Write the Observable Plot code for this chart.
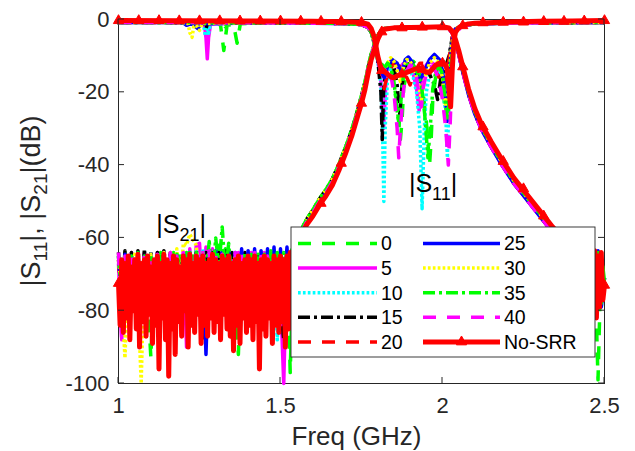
<!DOCTYPE html>
<html><head><meta charset="utf-8">
<script src="https://cdn.jsdelivr.net/npm/d3@7"></script>
<script src="https://cdn.jsdelivr.net/npm/@observablehq/plot@0.6"></script>
<style>body{margin:0;background:#fff;}svg{display:block}</style>
</head><body><div id="chart"></div>
<script>
// ---------- tick labels ----------
const xTicks = [1, 1.5, 2, 2.5];
const yTicks = [0, -20, -40, -60, -80, -100];
const srrLabels = ["0", "5", "10", "15", "20", "25", "30", "35", "40"];
const refLabel = "No-SRR";

// ---------- |S21| noise floor, left part (colored: 1.00..1.53 step 0.01) ----------
const noiseL_0 = [-66,-75,-64,-78,-65,-76,-64,-80,-65,-77,
  -93,-66,-74,-64,-79,-65,-76,-64,-80,-65,
  -75,-64,-78,-65,-77,-64,-79,-63.5,-76,-63,
  -78,-62,-75,-63,-79,-64,-77,-92,-65,-76,
  -64,-79,-65,-77,-64,-80,-63.5,-76,-64,-78,
  -64,-77,-65,-97];
const noiseL_5 = [-67,-88,-65,-77,-64,-79,-65,-76,-64,-78,
  -65,-77,-64,-80,-65,-76,-64,-78,-65,-77,
  -64,-90,-63,-76,-62,-61.5,-75,-62.5,-78,-63,
  -77,-64,-79,-64,-76,-65,-78,-64,-77,-65,
  -80,-64,-76,-65,-79,-64,-77,-64,-78,-65,
  -76,-100,-64,-77];
const noiseL_10 = [-65,-77,-64.5,-79,-65,-76,-64.5,-78,-65,-77,
  -64,-80,-65,-76,-64.5,-78,-65,-77,-64,-79,
  -64.5,-76,-64,-78,-63.5,-77,-63,-79,-64,-76,
  -64.5,-78,-65,-77,-64.5,-79,-65,-76,-64.5,-78,
  -65,-77,-64,-80,-65,-76,-64.5,-78,-65,-88,
  -64.5,-79,-65,-82];
const noiseL_15 = [-64,-78,-63.5,-76,-64,-79,-63.5,-77,-63,-80,
  -63.5,-76,-64,-78,-63.5,-77,-64,-79,-64.5,-76,
  -64,-78,-65,-77,-64,-79,-88,-64,-76,-63.5,
  -78,-64,-77,-63.5,-79,-64,-76,-64.5,-78,-64,
  -77,-65,-79,-64,-76,-64.5,-78,-64,-77,-65,
  -79,-88,-64,-80];
const noiseL_20 = [-66,-79,-65,-77,-66,-80,-65,-78,-66,-77,
  -65,-79,-66,-76,-65,-78,-66,-80,-65,-77,
  -66,-79,-65,-76,-66,-78,-65,-77,-66,-79,
  -65,-76,-66,-78,-65,-80,-66,-77,-65,-79,
  -66,-76,-65,-78,-66,-77,-65,-79,-66,-76,
  -65,-78,-66,-80];
const noiseL_25 = [-65,-77,-64.5,-79,-65,-76,-64,-78,-65,-77,
  -64.5,-79,-65,-76,-64,-78,-65,-77,-64.5,-80,
  -65,-76,-64,-78,-64.5,-77,-64,-92,-64,-78,
  -63.5,-77,-64,-79,-63.5,-76,-64,-78,-63,-77,
  -63.5,-79,-63,-76,-63.5,-78,-63,-77,-62.5,-79,
  -63,-76,-62.5,-78];
const noiseL_30 = [-65,-77,-93,-65,-78,-64.5,-76,-100,-65,-77,
  -64.5,-79,-65,-76,-64,-78,-64,-77,-63,-76,
  -61.5,-62,-59,-60.5,-62,-75,-63.5,-78,-64,-77,
  -64.5,-79,-65,-76,-64.5,-78,-65,-77,-64.5,-79,
  -65,-76,-64.5,-78,-65,-77,-64.5,-79,-65,-76,
  -64.5,-78,-65,-77];
const noiseL_35 = [-65,-76,-64.5,-78,-65,-77,-64,-79,-65,-76,
  -64.5,-78,-65,-77,-64.5,-79,-65,-76,-64.5,-78,
  -65,-77,-64,-79,-64,-76,-63.5,-70,-61,-72,
  -60,-68,-57,-70,-61.5,-72,-77,-64.5,-79,-64,
  -76,-64.5,-78,-64,-77,-64.5,-79,-63.5,-76,-64,
  -78,-64,-77,-64];
const noiseL_40 = [-64,-88,-65,-77,-64.5,-79,-65,-76,-64,-78,
  -65,-77,-64.5,-79,-65,-76,-64,-78,-65,-77,
  -64,-80,-64.5,-76,-63.5,-78,-64,-77,-63.5,-79,
  -64,-76,-64.5,-78,-65,-77,-64,-79,-64.5,-76,
  -65,-78,-64,-77,-64.5,-79,-65,-76,-64,-78,
  -64.5,-77,-65,-79];
// No-SRR noise, 1.000..1.535 step 0.005
const noiseL_ref = [-72.5,-84,-66,-86,-67,-82,-65,-88,-68,-80,
  -66,-85,-64.5,-90,-67,-83,-66,-87,-65,-81,
  -68,-89,-66,-84,-65,-96,-67,-82,-64.5,-88,
  -66,-98,-67,-85,-65,-92,-66,-83,-68,-87,
  -65,-80,-66,-90,-64.5,-84,-67,-86,-65,-81,
  -66,-89,-65,-84,-67,-87,-66,-82,-64.5,-86,
  -66,-83,-67,-88,-65,-81,-66,-85,-65,-87,
  -67,-91,-66,-84,-65,-89,-67,-82,-66,-86,
  -65,-84,-66,-88,-65,-83,-67,-96,-66,-85,
  -65,-87,-66,-82,-67,-89,-65,-84,-66,-86,
  -65,-83,-66,-90,-65,-85,-64,-80];

// ---------- |S21| noise floor, right part (colored: 2.44..2.50 step 0.01; ref step 0.005) ----------
const noiseR_0 = [-64,-78,-65,-66,-99,-64,-72];
const noiseR_5 = [-65,-77,-64,-79,-65,-76,-71];
const noiseR_10 = [-64.5,-78,-65,-77,-64.5,-79,-72];
const noiseR_15 = [-64,-79,-65,-76,-64,-78,-71];
const noiseR_20 = [-65,-77,-65.5,-79,-65,-77,-72];
const noiseR_25 = [-64,-78,-64.5,-77,-63.5,-79,-71];
const noiseR_30 = [-65,-76,-64.5,-78,-65,-77,-72];
const noiseR_35 = [-64.5,-79,-64,-77,-64,-78,-71];
const noiseR_40 = [-65,-77,-64.5,-79,-64,-76,-72];
const noiseR_ref = [-65,-80,-64,-84,-66,-78,-63.5,-82,-65,-79,-64,-77,-73];

// ---------- |S21| filter response (freq GHz, dB) ----------
const s21Band_ref = [[1.54,-63],[1.56,-60],[1.58,-56.5],[1.60,-54],[1.62,-51],[1.64,-48.5],[1.66,-45.5],[1.68,-41.5],[1.70,-37],[1.72,-32],[1.74,-26],[1.75,-23],[1.76,-19.5],[1.77,-15],[1.78,-11],[1.79,-8.3],[1.80,-5.5],[1.81,-3.6],[1.82,-2.7],[1.85,-2.3],[1.90,-2.2],[1.95,-2.1],[2.00,-2.0],[2.02,-2.3],[2.03,-3.3],[2.04,-5.5],[2.05,-8.5],[2.06,-12],[2.08,-19],[2.10,-24.5],[2.12,-28.7],[2.15,-33.5],[2.18,-38],[2.22,-43.5],[2.26,-48],[2.30,-52.5],[2.34,-57],[2.38,-61],[2.42,-64]];
const s21Band_A = [[1.54,-62.5],[1.56,-58.5],[1.58,-55],[1.60,-52.3],[1.62,-49.3],[1.64,-46.8],[1.66,-43.8],[1.68,-39.8],[1.70,-35.3],[1.72,-30.3],[1.74,-24.3],[1.76,-17.5],[1.77,-13.3],[1.78,-9.5],[1.79,-6.8],[1.80,-4.5],[1.81,-3.1],[1.82,-2.5],[1.85,-2.3],[1.90,-2.2],[1.95,-2.1],[2.00,-2.0],[2.02,-2.4],[2.03,-3.5],[2.04,-5.8],[2.05,-9],[2.06,-12.8],[2.08,-19.8],[2.10,-25.3],[2.12,-29.5],[2.15,-34.3],[2.18,-38.8],[2.22,-44.3],[2.26,-48.8],[2.30,-53.3],[2.34,-57.8],[2.38,-61.8],[2.42,-64.8]];
const s21Band_B = [[1.54,-63],[1.56,-59.3],[1.58,-55.8],[1.60,-53.1],[1.62,-50.1],[1.64,-47.6],[1.66,-44.6],[1.68,-40.6],[1.70,-36.1],[1.72,-31.1],[1.74,-25.1],[1.76,-18.2],[1.77,-13.9],[1.78,-10],[1.79,-7.2],[1.80,-4.8],[1.81,-3.3],[1.82,-2.6],[1.85,-2.3],[1.90,-2.2],[1.95,-2.1],[2.00,-2.0],[2.02,-2.5],[2.03,-3.7],[2.04,-6.1],[2.05,-9.5],[2.06,-13.5],[2.08,-20.5],[2.10,-26],[2.12,-30.2],[2.15,-35],[2.18,-39.5],[2.22,-45],[2.26,-49.5],[2.30,-54],[2.34,-58.5],[2.38,-62.5],[2.42,-65.5]];

// ---------- |S11| (freq GHz, dB) ----------
const s11_0 = [[1.00,-0.8],[1.10,-0.85],[1.20,-0.9],[1.30,-0.9],[1.315,-1.6],[1.325,-8.5],[1.335,-1.6],[1.355,-1.3],[1.366,-6.5],[1.376,-1.2],[1.45,-0.9],[1.60,-1.0],[1.70,-1.1],[1.75,-1.4],[1.77,-2.2],[1.78,-3.5],[1.79,-7],[1.80,-11],[1.81,-13],[1.82,-12],[1.83,-11.5],[1.84,-13],[1.85,-17],[1.86,-24],[1.87,-33],[1.875,-28],[1.88,-19],[1.89,-14],[1.90,-12],[1.91,-11.5],[1.92,-12.5],[1.93,-15],[1.94,-20],[1.95,-28],[1.96,-40],[1.965,-33],[1.97,-22],[1.98,-15],[1.99,-13],[2.00,-16],[2.01,-28],[2.015,-24],[2.02,-12],[2.03,-5],[2.04,-2.6],[2.06,-1.7],[2.10,-1.2],[2.20,-1.0],[2.35,-0.9],[2.50,-0.8]];
const s11_5 = [[1.00,-0.8],[1.15,-0.85],[1.25,-0.9],[1.265,-1.3],[1.27,-5],[1.274,-10.8],[1.278,-5],[1.284,-1.3],[1.40,-0.9],[1.60,-1.0],[1.70,-1.1],[1.75,-1.4],[1.77,-2.2],[1.78,-3.2],[1.79,-6.5],[1.80,-11],[1.81,-17],[1.818,-30],[1.825,-18],[1.83,-13],[1.84,-11.5],[1.85,-12],[1.86,-13],[1.87,-13],[1.88,-12],[1.89,-12],[1.90,-13],[1.91,-15],[1.92,-19],[1.928,-25],[1.935,-19],[1.94,-15],[1.95,-12.5],[1.96,-11.5],[1.97,-12],[1.98,-13],[1.99,-15],[2.00,-18],[2.01,-21],[2.02,-14],[2.03,-5],[2.04,-2.6],[2.06,-1.7],[2.10,-1.2],[2.20,-1.0],[2.35,-0.9],[2.50,-0.8]];
const s11_10 = [[1.00,-0.8],[1.15,-0.85],[1.25,-0.9],[1.262,-1.3],[1.268,-4.5],[1.272,-2],[1.278,-3.8],[1.284,-1.2],[1.40,-0.9],[1.60,-1.0],[1.70,-1.1],[1.75,-1.4],[1.77,-2.2],[1.78,-3.2],[1.79,-6.5],[1.80,-11],[1.81,-18],[1.815,-30],[1.819,-50],[1.823,-30],[1.83,-17],[1.84,-13],[1.85,-12],[1.86,-12.5],[1.87,-13],[1.88,-13],[1.89,-13.5],[1.90,-14],[1.91,-16],[1.92,-20],[1.93,-30],[1.937,-52],[1.944,-30],[1.95,-20],[1.96,-15],[1.97,-13],[1.98,-13],[1.99,-14],[2.00,-17],[2.01,-26],[2.015,-38],[2.02,-22],[2.03,-7],[2.04,-3],[2.06,-1.8],[2.10,-1.2],[2.20,-1.0],[2.35,-0.9],[2.50,-0.8]];
const s11_15 = [[1.00,-0.8],[1.15,-0.85],[1.26,-0.9],[1.265,-1.1],[1.27,-2.5],[1.275,-1.1],[1.40,-0.9],[1.60,-1.0],[1.70,-1.1],[1.75,-1.4],[1.77,-2.2],[1.78,-3.5],[1.79,-6],[1.80,-11],[1.81,-20],[1.814,-33],[1.818,-20],[1.825,-13],[1.835,-11.5],[1.85,-13],[1.86,-18],[1.868,-26],[1.875,-18],[1.885,-13],[1.90,-12],[1.92,-12.5],[1.94,-14],[1.96,-15],[1.975,-18],[1.985,-22],[1.995,-16],[2.01,-13],[2.02,-10],[2.03,-5],[2.04,-2.6],[2.06,-1.7],[2.10,-1.2],[2.20,-1.0],[2.35,-0.9],[2.50,-0.8]];
const s11_20 = [[1.00,-0.8],[1.20,-0.85],[1.40,-0.9],[1.60,-1.0],[1.70,-1.1],[1.75,-1.4],[1.77,-2.2],[1.78,-3.5],[1.79,-6.5],[1.80,-10],[1.81,-14],[1.82,-19],[1.83,-15],[1.85,-12],[1.87,-13],[1.89,-16],[1.90,-18],[1.91,-15],[1.93,-12],[1.95,-12],[1.97,-13],[1.99,-16],[2.00,-19],[2.01,-15],[2.02,-11],[2.03,-5],[2.04,-2.6],[2.06,-1.7],[2.10,-1.2],[2.20,-1.0],[2.35,-0.9],[2.50,-0.8]];
const s11_25 = [[1.00,-0.8],[1.15,-0.85],[1.20,-0.9],[1.21,-1.6],[1.225,-1.1],[1.245,-2.5],[1.255,-1.2],[1.40,-0.9],[1.60,-1.0],[1.70,-1.1],[1.75,-1.4],[1.77,-2.2],[1.78,-3.5],[1.79,-6.5],[1.80,-11],[1.81,-14],[1.82,-16],[1.83,-13],[1.845,-11],[1.86,-12],[1.87,-14],[1.875,-15],[1.885,-11],[1.895,-10.3],[1.905,-11.5],[1.92,-15],[1.93,-17],[1.945,-14],[1.96,-11],[1.975,-9.6],[1.99,-11],[2.00,-14],[2.01,-22],[2.014,-28],[2.02,-16],[2.03,-6],[2.04,-2.6],[2.06,-1.7],[2.10,-1.2],[2.20,-1.0],[2.35,-0.9],[2.50,-0.8]];
const s11_30 = [[1.00,-0.8],[1.15,-0.85],[1.21,-0.9],[1.215,-1.2],[1.22,-3.6],[1.227,-4.9],[1.232,-2],[1.24,-1.5],[1.25,-3],[1.258,-1.1],[1.40,-0.9],[1.60,-1.0],[1.70,-1.1],[1.75,-1.4],[1.77,-2.2],[1.78,-3.5],[1.79,-6.5],[1.80,-11],[1.81,-13],[1.82,-14],[1.83,-12],[1.84,-10.5],[1.85,-11.5],[1.86,-14],[1.87,-17],[1.88,-13],[1.89,-11],[1.90,-11.5],[1.91,-13],[1.925,-17],[1.935,-22],[1.945,-16],[1.96,-12],[1.975,-10.5],[1.99,-12],[2.00,-16],[2.01,-24],[2.015,-26],[2.02,-15],[2.03,-6],[2.04,-2.6],[2.06,-1.7],[2.10,-1.2],[2.20,-1.0],[2.35,-0.9],[2.50,-0.8]];
const s11_35 = [[1.00,-0.8],[1.20,-0.85],[1.32,-0.9],[1.33,-2],[1.34,-0.9],[1.50,-0.9],[1.60,-1.0],[1.70,-1.1],[1.75,-1.4],[1.77,-2.2],[1.78,-3.5],[1.79,-6.5],[1.80,-11],[1.81,-13],[1.82,-13.5],[1.83,-12],[1.84,-13],[1.85,-17],[1.86,-25],[1.866,-29],[1.872,-22],[1.88,-15],[1.89,-12.5],[1.90,-12],[1.91,-12.5],[1.92,-14],[1.935,-18],[1.945,-26],[1.955,-38],[1.962,-30],[1.97,-19],[1.98,-14],[1.99,-13],[2.00,-15],[2.01,-24],[2.017,-28],[2.025,-13],[2.035,-5],[2.045,-2.4],[2.06,-1.7],[2.10,-1.2],[2.20,-1.0],[2.35,-0.9],[2.50,-0.8]];
const s11_40 = [[1.00,-0.8],[1.20,-0.85],[1.40,-0.9],[1.60,-1.0],[1.70,-1.1],[1.75,-1.4],[1.77,-2.2],[1.78,-3.5],[1.79,-6],[1.80,-11],[1.81,-14],[1.82,-14],[1.83,-13],[1.84,-15],[1.85,-20],[1.86,-30],[1.865,-38],[1.87,-30],[1.88,-19],[1.89,-14],[1.90,-12.5],[1.91,-13],[1.92,-16],[1.93,-22],[1.935,-24],[1.94,-19],[1.95,-15],[1.96,-13],[1.97,-13],[1.98,-14.5],[1.99,-17],[2.00,-22],[2.01,-30],[2.018,-40],[2.024,-28],[2.03,-12],[2.04,-4],[2.06,-1.8],[2.10,-1.2],[2.20,-1.0],[2.35,-0.9],[2.50,-0.8]];
const s11_ref = [[1.00,-0.3],[1.20,-0.35],[1.40,-0.4],[1.60,-0.5],[1.70,-0.6],[1.75,-0.8],[1.77,-1.3],[1.78,-2.5],[1.79,-5],[1.80,-10],[1.81,-13.5],[1.82,-14.2],[1.83,-15],[1.84,-15.8],[1.85,-16],[1.86,-15.5],[1.87,-15],[1.88,-14.8],[1.89,-14.5],[1.90,-14.2],[1.91,-13.8],[1.92,-13.5],[1.93,-13.5],[1.94,-14],[1.95,-14.5],[1.96,-14.5],[1.97,-13.5],[1.98,-12.5],[1.99,-12],[2.00,-12],[2.01,-12.5],[2.015,-14],[2.02,-19],[2.025,-24],[2.03,-14],[2.035,-6],[2.04,-3.5],[2.05,-2.3],[2.06,-1.7],[2.08,-1.2],[2.10,-1.0],[2.20,-0.7],[2.30,-0.5],[2.40,-0.4],[2.50,-0.3]];

// ---------- No-SRR marker samples ----------
const markerFreqs = [1, 1.0625, 1.125, 1.1875, 1.25, 1.3125, 1.375, 1.4375, 1.5, 1.5625, 1.625, 1.6875, 1.75, 1.8125, 1.875, 1.9375, 2, 2.0625, 2.125, 2.1875, 2.25, 2.3125, 2.375, 2.4375, 2.5];
const markerS11 = [-0.3,-0.3,-0.3,-0.35,-0.35,-0.35,-0.4,-0.4,-0.4,-0.45,-0.5,-0.55,-0.8,-14,-15,-13.7,-12,-1.7,-0.9,-0.75,-0.7,-0.55,-0.5,-0.4,-0.3];
const markerS21 = [-72.5,-74,-70,-76,-72,-75,-71,-74,-73,-59,-50.5,-39.5,-23,-3.4,-2.3,-2.1,-2.0,-13,-29.5,-39,-46.5,-54,-60.7,-70,-73];

// ---------- assemble ----------
const gridPts = (start, step, vals) => vals.map((v, i) => [start + i * step, v]);
const noiseL = {"0":noiseL_0,"5":noiseL_5,"10":noiseL_10,"15":noiseL_15,"20":noiseL_20,"25":noiseL_25,"30":noiseL_30,"35":noiseL_35,"40":noiseL_40};
const noiseR = {"0":noiseR_0,"5":noiseR_5,"10":noiseR_10,"15":noiseR_15,"20":noiseR_20,"25":noiseR_25,"30":noiseR_30,"35":noiseR_35,"40":noiseR_40};
const band = {"0":s21Band_A,"10":s21Band_A,"15":s21Band_A,"30":s21Band_A,"35":s21Band_A,"5":s21Band_B,"20":s21Band_B,"25":s21Band_B,"40":s21Band_B};
const s11 = {"0":s11_0,"5":s11_5,"10":s11_10,"15":s11_15,"20":s11_20,"25":s11_25,"30":s11_30,"35":s11_35,"40":s11_40};

const styles = {
  "0":  {stroke: "#00ff00", dash: "13,11"},
  "5":  {stroke: "#ff00ff", dash: null},
  "10": {stroke: "#00ffff", dash: "2.7,2.2"},
  "15": {stroke: "#000000", dash: "12,4,3,4"},
  "20": {stroke: "#ff0000", dash: "13,11"},
  "25": {stroke: "#0000ff", dash: null},
  "30": {stroke: "#ffff00", dash: "2.7,2.2"},
  "35": {stroke: "#00ff00", dash: "12,4,3,4"},
  "40": {stroke: "#ff00ff", dash: "13,11"},
  "No-SRR": {stroke: "#ff0000", dash: null}
};
const LW = 3.5, LW_REF = 5;
const FONT = "'Liberation Sans', Arial, Helvetica, sans-serif";

const marks = [Plot.frame({stroke: "#262626", strokeWidth: 1})];
const lineOpts = (k, w) => ({
  x: d => d[0], y: d => d[1],
  stroke: styles[k].stroke, strokeWidth: w,
  strokeDasharray: styles[k].dash || undefined,
  strokeLinejoin: "round", strokeLinecap: "butt"
});
for (const k of srrLabels) {
  const s21 = [...gridPts(1, 0.01, noiseL[k]), ...band[k], ...gridPts(2.44, 0.01, noiseR[k])];
  marks.push(Plot.line(s21, lineOpts(k, LW)));
  marks.push(Plot.line(s11[k], lineOpts(k, LW)));
}
const s21Ref = [...gridPts(1, 0.005, noiseL_ref), ...s21Band_ref, ...gridPts(2.44, 0.005, noiseR_ref)];
marks.push(Plot.line(s21Ref, lineOpts(refLabel, LW_REF)));
marks.push(Plot.line(s11_ref, lineOpts(refLabel, LW_REF)));
const markers = [...markerFreqs.map((f, i) => [f, markerS11[i]]), ...markerFreqs.map((f, i) => [f, markerS21[i]])];
marks.push(Plot.dot(markers, {x: d => d[0], y: d => d[1], symbol: "triangle", r: 3.8, fill: "#ff0000", stroke: "#ff0000", strokeWidth: 1}));

// tick labels
marks.push(Plot.text(yTicks, {y: d => d, frameAnchor: "left", text: d => String(d), textAnchor: "end", dx: -9, fontSize: 22, fill: "#262626"}));
marks.push(Plot.text(xTicks, {x: d => d, frameAnchor: "bottom", text: d => String(d), lineAnchor: "top", dy: 14, fontSize: 22, fill: "#262626"}));
marks.push(Plot.text(["Freq (GHz)"], {frameAnchor: "bottom", text: d => d, lineAnchor: "top", dy: 43, dx: -5, fontSize: 26, fill: "#262626"}));

const plot = Plot.plot({
  width: 635, height: 451,
  marginLeft: 118, marginRight: 31, marginTop: 19, marginBottom: 68,
  x: {domain: [1, 2.5], axis: null},
  y: {domain: [-100, 0], axis: null},
  style: {fontFamily: FONT, background: "white", overflow: "visible"},
  marks
});
document.getElementById("chart").appendChild(plot);

// ---------- post-render decorations through Plot's scales ----------
const svg = d3.select(plot);
const xs = plot.scale("x"), ys = plot.scale("y");
const X0 = xs.range[0], X1 = xs.range[1], Y0 = ys.range[0], Y1 = ys.range[1];
const tickG = svg.append("g").attr("stroke", "#262626").attr("stroke-width", 1);
const TL = 6;
for (const v of yTicks) {
  const yy = ys.apply(v);
  tickG.append("line").attr("x1", X0).attr("x2", X0 + TL).attr("y1", yy).attr("y2", yy);
  tickG.append("line").attr("x1", X1).attr("x2", X1 - TL).attr("y1", yy).attr("y2", yy);
}
for (const v of xTicks) {
  const xx = xs.apply(v);
  tickG.append("line").attr("x1", xx).attr("x2", xx).attr("y1", Math.max(Y0, Y1)).attr("y2", Math.max(Y0, Y1) - TL);
  tickG.append("line").attr("x1", xx).attr("x2", xx).attr("y1", Math.min(Y0, Y1)).attr("y2", Math.min(Y0, Y1) + TL);
}

// y-axis title with subscripts
const yMid = (Y0 + Y1) / 2;
const yl = svg.append("text").attr("transform", `translate(40,${yMid}) rotate(-90)`)
  .attr("text-anchor", "middle").attr("font-size", 27).attr("fill", "#262626").attr("font-family", FONT);
yl.append("tspan").text("|S");
yl.append("tspan").attr("font-size", 19).attr("dy", 7).text("11");
yl.append("tspan").attr("dy", -7).text("|, |S");
yl.append("tspan").attr("font-size", 19).attr("dy", 7).text("21");
yl.append("tspan").attr("dy", -7).text("|(dB)");

// annotations
function subLabel(f, db, sub) {
  const t = svg.append("text").attr("x", xs.apply(f)).attr("y", ys.apply(db))
    .attr("text-anchor", "start")
    .attr("font-size", 25).attr("fill", "#000").attr("font-family", FONT);
  t.append("tspan").text("|S");
  t.append("tspan").attr("font-size", 18).attr("dy", 8).text(sub);
  t.append("tspan").attr("dy", -8).text("|");
}
subLabel(1.898, -47.5, "11");
subLabel(1.118, -58.8, "21");

// legend
const lg = svg.append("g").attr("font-family", FONT).attr("text-anchor", "start");
lg.append("rect").attr("x", 291).attr("y", 227).attr("width", 304).attr("height", 130)
  .attr("fill", "white").attr("stroke", "#262626").attr("stroke-width", 0.9);
const legendKeys = [...srrLabels, refLabel];
legendKeys.forEach((k, i) => {
  const col = i < 5 ? 0 : 1, row = i % 5;
  const lx0 = col ? 423 : 298, lx1 = col ? 500 : 377;
  const yy = 243.5 + row * 24.6;
  const isRef = k === refLabel;
  lg.append("line").attr("x1", lx0).attr("x2", lx1).attr("y1", yy).attr("y2", yy)
    .attr("stroke", styles[k].stroke).attr("stroke-width", isRef ? LW_REF : LW)
    .attr("stroke-dasharray", styles[k].dash || null);
  if (isRef) {
    lg.append("path").attr("transform", `translate(${(lx0 + lx1) / 2},${yy})`)
      .attr("d", d3.symbol(d3.symbolTriangle, Math.PI * 3.8 * 3.8)()).attr("fill", "#ff0000").attr("stroke", "#ff0000");
  }
  lg.append("text").attr("x", lx1 + 4).attr("y", yy + 6.8).attr("font-size", 19.5)
    .attr("text-anchor", "start").attr("fill", "#000").text(k);
});
</script>
</body></html>
